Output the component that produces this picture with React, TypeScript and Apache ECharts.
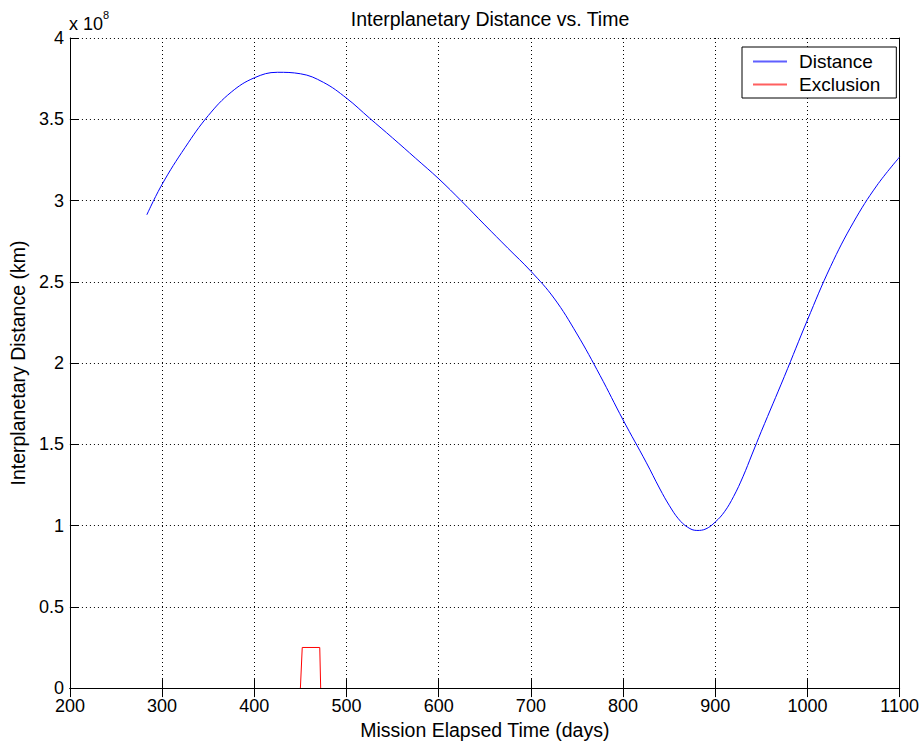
import React, { useEffect, useRef } from "react";
import * as echarts from "echarts";

// Mission elapsed time (days) and interplanetary distance (x 10^8 km)
const distanceDays = [
  283.4, 300, 325, 350, 375, 400, 425, 450, 475, 500, 525, 550, 575, 600, 625,
  650, 675, 700, 725, 750, 775, 800, 825, 840, 850, 860, 870, 880, 890, 900,
  910, 920, 930, 940, 950, 975, 1000, 1025, 1050, 1075, 1100,
];
const distanceE8 = [
  2.912, 3.1, 3.327, 3.522, 3.667, 3.755, 3.789, 3.78, 3.727, 3.63, 3.507,
  3.385, 3.26, 3.134, 2.995, 2.85, 2.707, 2.565, 2.4, 2.179, 1.924, 1.65, 1.39,
  1.225, 1.125, 1.042, 0.99, 0.97, 0.98, 1.022, 1.085, 1.18, 1.3, 1.44, 1.58,
  1.918, 2.265, 2.593, 2.867, 3.09, 3.268,
];
const exclusionDays = [450, 452, 471, 472];
const exclusionE8 = [0, 0.25, 0.25, 0];

const xTicks = [200, 300, 400, 500, 600, 700, 800, 900, 1000, 1100];
const yTicks = [0, 0.5, 1, 1.5, 2, 2.5, 3, 3.5, 4];

const FONT = "Liberation Sans, Arial, sans-serif";
const BLUE = "#0000ff";
const RED = "#ff0000";

export default function App() {
  const ref = useRef<HTMLDivElement>(null);
  useEffect(() => {
    document.body.style.margin = "0";
    const chart = echarts.init(ref.current!, null, { renderer: "svg" });
    const gridLine = { show: true, lineStyle: { color: "#000", width: 1, type: [1, 3] as any } };
    const axisLine = { show: true, lineStyle: { color: "#000", width: 1 } };
    const tick = { show: true, inside: true, length: 9, lineStyle: { color: "#000" } };
    const fmt = (v: number) => String(v);
    chart.setOption({
      animation: false,
      backgroundColor: "#fff",
      title: {
        text: "Interplanetary Distance vs. Time",
        left: 485,
        top: 4,
        textAlign: "center",
        textStyle: { fontFamily: FONT, fontSize: 19.5, fontWeight: "normal", color: "#000" },
      },
      legend: {
        left: 742,
        top: 47,
        orient: "vertical",
        backgroundColor: "#fff",
        borderColor: "#000",
        borderWidth: 1,
        borderRadius: 0,
        padding: [5, 16, 4, 11],
        icon: "rect",
        itemWidth: 34,
        itemHeight: 2,
        itemGap: 4,
        itemStyle: { borderWidth: 0 },
        textStyle: { fontFamily: FONT, fontSize: 19, color: "#000", lineHeight: 18, padding: [0, 0, 0, 7] },
        data: [
          { name: "Distance", itemStyle: { color: "#5f5fff", borderWidth: 0 } },
          { name: "Exclusion", itemStyle: { color: "#ff5f5f", borderWidth: 0 } },
        ],
      },
      grid: { left: 69, top: 38, width: 832, height: 656, containLabel: false },
      xAxis: [
        {
          type: "value",
          min: xTicks[0],
          max: xTicks[xTicks.length - 1],
          interval: 100,
          name: "Mission Elapsed Time (days)",
          nameLocation: "middle",
          nameGap: 30,
          nameTextStyle: { fontFamily: FONT, fontSize: 19.5, color: "#000" },
          axisLine,
          axisTick: tick,
          axisLabel: { fontFamily: FONT, fontSize: 18, color: "#000", margin: 9, formatter: fmt },
          splitLine: gridLine,
        },
        {
          type: "value",
          position: "top",
          min: xTicks[0],
          max: xTicks[xTicks.length - 1],
          interval: 100,
          axisLine,
          axisTick: tick,
          axisLabel: { show: false },
          splitLine: { show: false },
        },
      ],
      yAxis: [
        {
          type: "value",
          min: yTicks[0],
          max: yTicks[yTicks.length - 1],
          interval: 0.5,
          name: "Interplanetary Distance (km)",
          nameLocation: "middle",
          nameGap: 28,
          nameTextStyle: { fontFamily: FONT, fontSize: 19.5, color: "#000" },
          axisLine,
          axisTick: tick,
          axisLabel: { fontFamily: FONT, fontSize: 18, color: "#000", margin: 6, formatter: fmt },
          splitLine: gridLine,
        },
        {
          type: "value",
          position: "right",
          min: yTicks[0],
          max: yTicks[yTicks.length - 1],
          interval: 0.5,
          axisLine,
          axisTick: tick,
          axisLabel: { show: false },
          splitLine: { show: false },
        },
      ],
      graphic: [
        {
          type: "text",
          left: 69,
          top: 15,
          style: { text: "x 10", fontFamily: FONT, fontSize: 18, fill: "#000" },
        },
        {
          type: "text",
          left: 103,
          top: 9,
          style: { text: "8", fontFamily: FONT, fontSize: 11, fill: "#000" },
        },
      ],
      series: [
        {
          name: "Distance",
          type: "line",
          data: distanceDays.map((d, i) => [d, distanceE8[i]]),
          smooth: 0.4,
          symbol: "none",
          lineStyle: { color: BLUE, width: 1 },
          itemStyle: { color: BLUE },
        },
        {
          name: "Exclusion",
          type: "line",
          data: exclusionDays.map((d, i) => [d, exclusionE8[i]]),
          symbol: "none",
          lineStyle: { color: RED, width: 1 },
          itemStyle: { color: RED },
        },
      ],
    });
    return () => chart.dispose();
  }, []);
  return (
    <div
      ref={ref}
      style={{ position: "absolute", left: 0, top: 0, width: 922, height: 745 }}
    />
  );
}
